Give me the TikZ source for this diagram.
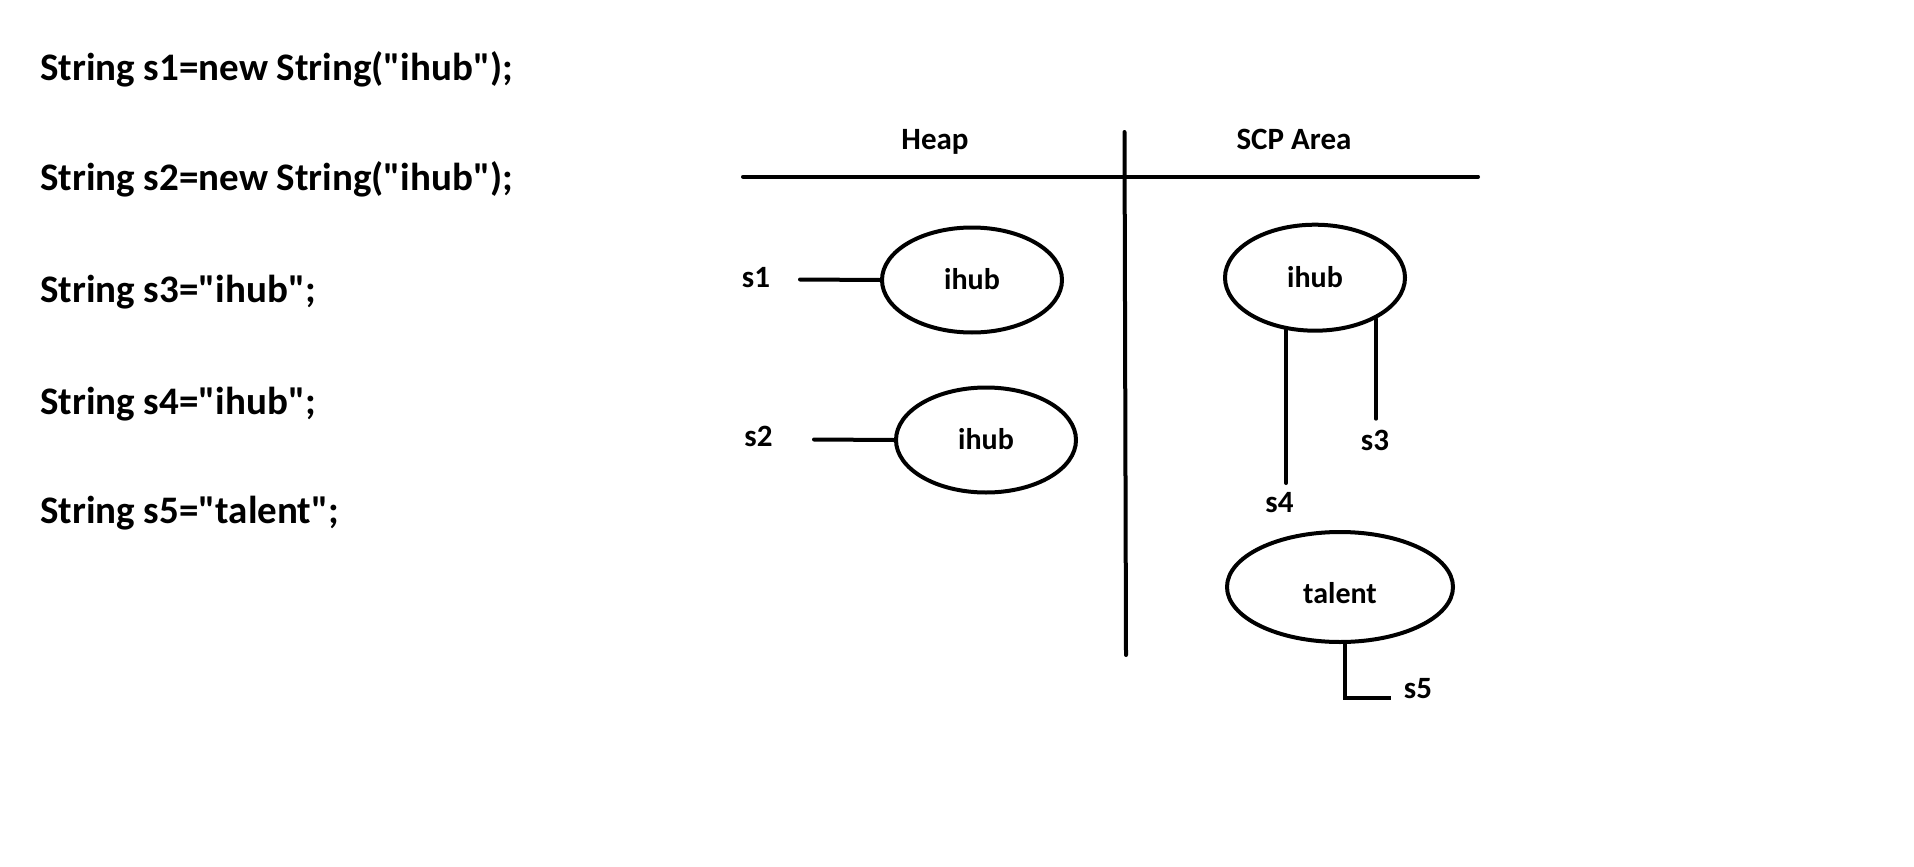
\documentclass[tikz,border=0pt]{standalone}
\usepackage{fontspec}
\setmainfont{Carlito}[Ligatures=TeXOff]
\usetikzlibrary{shapes.geometric}
\begin{document}
\begin{tikzpicture}[x=1pt,y=-1pt,
  code/.style={anchor=base west, font=\fontsize{39}{47}\selectfont\bfseries, inner sep=0pt},
  lbl/.style={anchor=base, font=\fontsize{31}{37}\selectfont\bfseries, inner sep=0pt},
  obj/.style={ellipse, draw, line width=4pt, inner sep=0pt, font=\fontsize{30}{36}\selectfont\bfseries},
  wire/.style={line width=4pt, line cap=round},
]
\useasboundingbox (0,0) rectangle (1914,867);
% code listing
\node[code] (c1) at (40,80.7) {String s1=new String("ihub");};
\node[code] (c2) at (40,190.7) {String s2=new String("ihub");};
\node[code] (c3) at (40,302.3) {String s3="ihub";};
\node[code] (c4) at (40,414) {String s4="ihub";};
\node[code] (c5) at (40,523.3) {String s5="talent";};
% area headings and dividers
\node[lbl] (heap) at (935,149) {Heap};
\node[lbl] (scp) at (1294,149) {SCP Area};
\coordinate (hl) at (743,176.7);
\coordinate (hr) at (1478,176.7);
\coordinate (vt) at (1124.5,132);
\coordinate (vb) at (1126,655);
\draw[wire] (hl) -- (hr);
\draw[wire] (vt) -- (vb);
% objects
\node[obj, minimum width=180pt, minimum height=105pt] (e1) at (972,280) {\raisebox{1pt}[\height][0pt]{ihub}};
\node[obj, minimum width=180pt, minimum height=105pt] (e2) at (986,440) {\raisebox{1pt}[\height][0pt]{ihub}};
\node[obj, minimum width=180pt, minimum height=106pt] (e3) at (1315,277.7) {\raisebox{1pt}[\height][0pt]{ihub}};
\node[obj, minimum width=226pt, minimum height=110pt] (e4) at (1340,587) {\raisebox{-6pt}[\height][0pt]{talent}};
% reference labels
\node[lbl] (s1) at (756,287) {s1};
\node[lbl] (s2) at (758.5,446.7) {s2};
\node[lbl] (s3) at (1375,450.7) {s3};
\node[lbl] (s4) at (1279.5,512) {s4};
\node[lbl] (s5) at (1418,698) {s5};
% connector ends
\coordinate (s1c) at (800,279.5);
\coordinate (s2c) at (814,439.5);
\coordinate (s3c) at (1375,418.7);
\coordinate (s4c) at (1287.7,483);
\coordinate (s5c) at (1345,698);
\coordinate (s5e) at (1391,698);
% connectors
\draw[wire] (s1c) -- (e1.west);
\draw[wire] (s2c) -- (e2.west);
\draw[wire] (e3.326) -- (e3.326 |- s3c);
\draw[wire] (e3.241.6) -- (e3.241.6 |- s4c);
\draw[line width=4pt, line join=miter] (e4.south -| s5c) -- (s5c) -- (s5e);
\end{tikzpicture}
\end{document}
